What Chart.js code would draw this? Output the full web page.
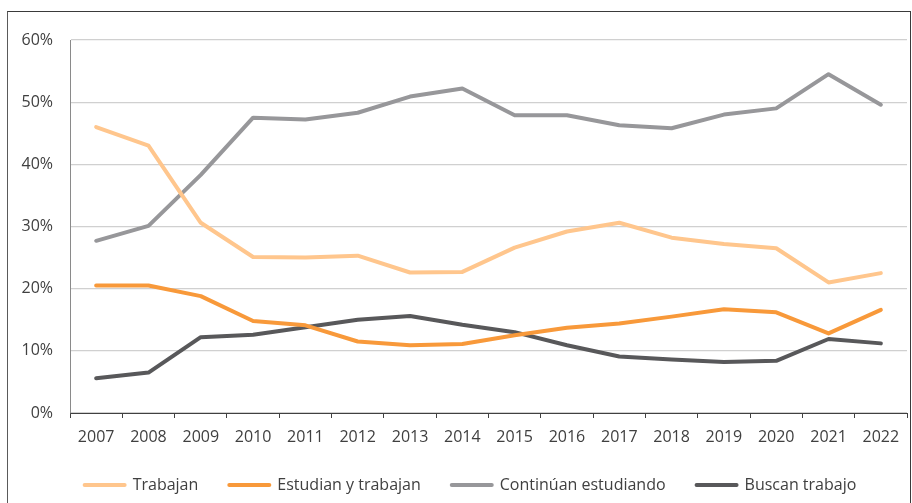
<!DOCTYPE html>
<html>
<head>
<meta charset="utf-8">
<script src="https://cdn.jsdelivr.net/npm/chart.js@4/dist/chart.umd.min.js"></script>
<style>
  html, body { margin: 0; padding: 0; background: #ffffff; }
  #wrap { position: relative; width: 912px; height: 503px; overflow: hidden; }
  #frame { position: absolute; left: 7px; top: 11px; width: 904px; height: 500px; border-top: 1px solid #3a3a3a; border-left: 1px solid #5a5a5a; border-right: 1px solid #3a3a3a; box-sizing: border-box; }
  canvas { position: absolute; left: 0; top: 0; }
</style>
</head>
<body>
<div id="wrap">
  <div id="frame"></div>
  <canvas id="c" width="912" height="503"></canvas>
</div>
<script>
const years = ['2007','2008','2009','2010','2011','2012','2013','2014','2015','2016','2017','2018','2019','2020','2021','2022'];
const trabajan = [46.0, 43.0, 30.6, 25.1, 25.0, 25.3, 22.6, 22.7, 26.6, 29.2, 30.6, 28.2, 27.2, 26.5, 21.0, 22.5];
const estudianYTrabajan = [20.5, 20.5, 18.8, 14.8, 14.1, 11.5, 10.9, 11.1, 12.5, 13.7, 14.4, 15.5, 16.7, 16.2, 12.8, 16.6];
const continuanEstudiando = [27.7, 30.1, 38.3, 47.5, 47.2, 48.3, 50.9, 52.2, 47.9, 47.9, 46.3, 45.8, 48.0, 49.0, 54.5, 49.6];
const buscanTrabajo = [5.6, 6.5, 12.2, 12.6, 13.8, 15.0, 15.6, 14.2, 13.0, 10.9, 9.1, 8.6, 8.2, 8.4, 11.9, 11.2];
const yTicks = [0, 10, 20, 30, 40, 50, 60];

const seriesNames = ['Trabajan', 'Estudian y trabajan', 'Continúan estudiando', 'Buscan trabajo'];
const seriesColors = ['#FFC68D', '#F8993A', '#97979A', '#58585A'];
const seriesData = [trabajan, estudianYTrabajan, continuanEstudiando, buscanTrabajo];

const FONT = '"Open Sans", "Noto Sans", sans-serif';
const TEXT = '#404040';

const legendShift = {
  id: 'legendShift',
  afterLayout(chart) {
    if (chart.legend) { chart.legend.left = 34; }
  }
};

new Chart(document.getElementById('c'), {
  type: 'line',
  data: {
    labels: years,
    datasets: seriesNames.map((n, i) => ({
      label: n,
      data: seriesData[i],
      borderColor: seriesColors[i],
      backgroundColor: seriesColors[i],
      borderWidth: 4,
      pointRadius: 0,
      pointHoverRadius: 0,
      tension: 0,
      fill: false,
      borderJoinStyle: 'round',
      borderCapStyle: 'round'
    }))
  },
  plugins: [legendShift],
  options: {
    responsive: false,
    animation: false,
    devicePixelRatio: 1,
    layout: { padding: { left: 0, right: 5, top: 40, bottom: 0 } },
    plugins: {
      tooltip: { enabled: false },
      legend: {
        position: 'bottom',
        labels: {
          usePointStyle: true,
          pointStyleWidth: 40,
          padding: 31,
          color: TEXT,
          font: { family: FONT, size: 16 },
          generateLabels: (chart) => chart.data.datasets.map((ds, i) => ({
            text: ds.label,
            fillStyle: ds.borderColor,
            strokeStyle: ds.borderColor,
            lineWidth: 4,
            lineCap: 'round',
            pointStyle: 'line',
            hidden: false,
            datasetIndex: i,
            fontColor: TEXT
          }))
        }
      }
    },
    scales: {
      x: {
        type: 'category',
        offset: true,
        afterFit: (s) => { s.height = 33; },
        grid: { offset: true, drawOnChartArea: false, drawTicks: true, tickLength: 5, color: '#404040' },
        border: { color: '#404040', width: 1 },
        ticks: { color: TEXT, padding: 10, font: { family: FONT, size: 16 }, maxRotation: 0, autoSkip: false }
      },
      y: {
        min: 0,
        max: 60,
        afterFit: (s) => { s.width = 70; },
        afterBuildTicks: (s) => { s.ticks = yTicks.map(v => ({ value: v })); },
        grid: { color: '#D0D0D0', lineWidth: 1.3, drawTicks: false },
        border: { color: '#8a8a8a', width: 1 },
        ticks: { color: TEXT, padding: 17, font: { family: FONT, size: 16 }, callback: (v) => v + '%' }
      }
    }
  }
});
</script>
</body>
</html>
